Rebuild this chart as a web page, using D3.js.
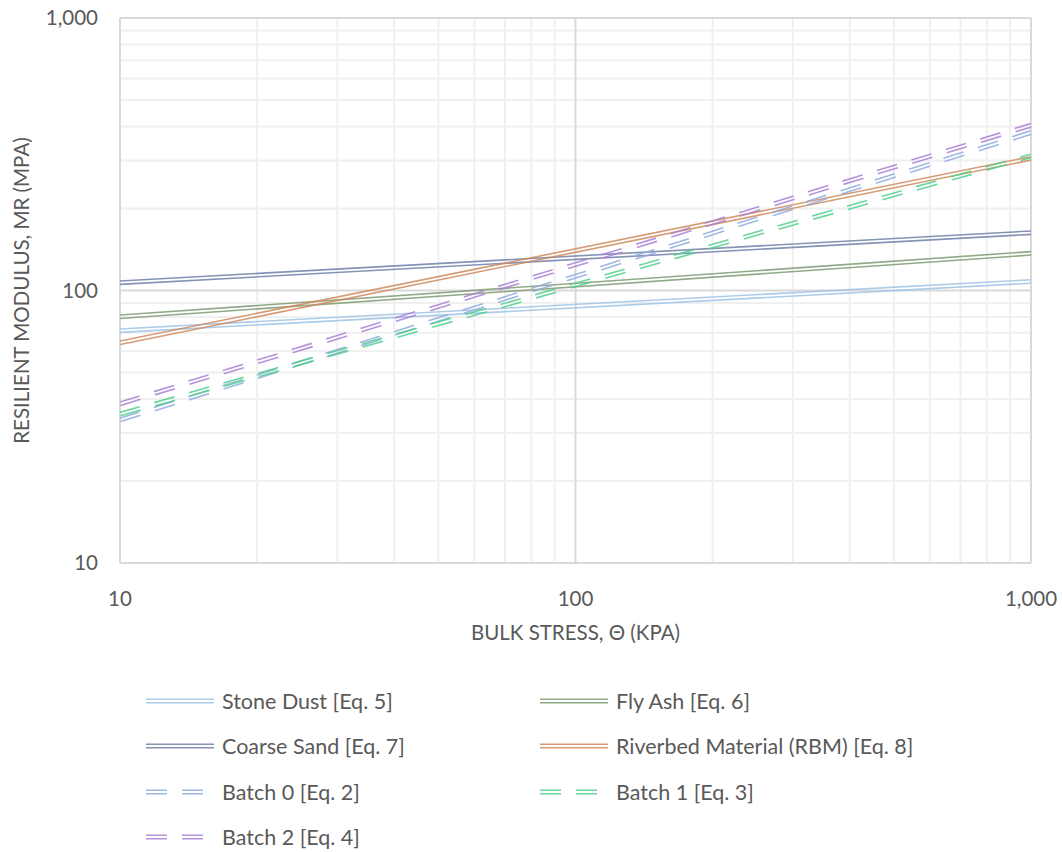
<!DOCTYPE html>
<html>
<head>
<meta charset="utf-8">
<script src="https://cdn.jsdelivr.net/npm/d3@7"></script>
<style>
  body { margin: 0; background: #fff; }
  svg { display: block; }
  text { font-family: Lato, "Open Sans", sans-serif; fill: #595959; }
</style>
</head>
<body>
<svg id="chart" width="1062" height="852"></svg>
<script>
// Bulk stress (kPa) at which each model curve is evaluated
const bulkStress = [10, 1000];

// Resilient modulus (MPa) of each material at those stresses
const stoneDust   = [71.2, 107.9];
const flyAsh      = [80.1, 136.9];
const coarseSand  = [106.8, 163.0];
const riverbed    = [64.3, 305.5];
const batch0      = [33.5, 380];
const batch1      = [35.2, 312];
const batch2      = [38.4, 404];

const seriesNames = [
  "Stone Dust [Eq. 5]", "Fly Ash [Eq. 6]", "Coarse Sand [Eq. 7]",
  "Riverbed Material (RBM) [Eq. 8]", "Batch 0 [Eq. 2]", "Batch 1 [Eq. 3]", "Batch 2 [Eq. 4]"
];
const seriesValues = [stoneDust, flyAsh, coarseSand, riverbed, batch0, batch1, batch2];
const seriesColors = ["#9dc3e6", "#7f9a72", "#6f80a8", "#d08a5c", "#8eaadf", "#4fcf8c", "#a97fd6"];
const seriesDashed = [false, false, false, false, true, true, true];

const xTicks = [10, 100, 1000];
const yTicks = [10, 100, 1000];

const svg = d3.select("#chart");
const plotLeft = 120, plotRight = 1031, plotTop = 18, plotBottom = 563;

const x = d3.scaleLog().domain([10, 1000]).range([plotLeft, plotRight]);
const y = d3.scaleLog().domain([10, 1000]).range([plotBottom, plotTop]);
const fmt = d3.format(",");

// minor values 2..9 within each decade
const minor = [];
[10, 100].forEach(d => { for (let k = 2; k <= 9; k++) minor.push(d * k); });

const grid = svg.append("g");
grid.selectAll(".vminor").data(minor).join("line")
  .attr("x1", d => x(d)).attr("x2", d => x(d))
  .attr("y1", plotTop).attr("y2", plotBottom)
  .attr("stroke", "#f0f0f0").attr("stroke-width", 2);
grid.selectAll(".hminor").data(minor).join("line")
  .attr("y1", d => y(d)).attr("y2", d => y(d))
  .attr("x1", plotLeft).attr("x2", plotRight)
  .attr("stroke", "#f0f0f0").attr("stroke-width", 2);
grid.selectAll(".vmajor").data(xTicks).join("line")
  .attr("x1", d => x(d)).attr("x2", d => x(d))
  .attr("y1", plotTop).attr("y2", plotBottom)
  .attr("stroke", "#d9d9d9").attr("stroke-width", 2);
grid.selectAll(".hmajor").data(yTicks).join("line")
  .attr("y1", d => y(d)).attr("y2", d => y(d))
  .attr("x1", plotLeft).attr("x2", plotRight)
  .attr("stroke", "#d9d9d9").attr("stroke-width", 2);

// tick labels
svg.append("g").selectAll("text").data(yTicks).join("text")
  .attr("x", 98).attr("y", d => y(d)).attr("dy", "0.35em")
  .attr("text-anchor", "end").attr("font-size", 20.5)
  .text(d => fmt(d));
svg.append("g").selectAll("text").data(xTicks).join("text")
  .attr("x", d => x(d)).attr("y", 599).attr("dy", "0.35em")
  .attr("text-anchor", "middle").attr("font-size", 20.5)
  .text(d => fmt(d));

// axis titles
svg.append("text").attr("x", (plotLeft + plotRight) / 2).attr("y", 633).attr("dy", "0.35em")
  .attr("text-anchor", "middle").attr("font-size", 20.5)
  .text("BULK STRESS, Θ (KPA)");
svg.append("text")
  .attr("transform", `translate(22,${(plotTop + plotBottom) / 2}) rotate(-90)`)
  .attr("dy", "0.35em").attr("text-anchor", "middle").attr("font-size", 20.5)
  .text("RESILIENT MODULUS, MR (MPA)");

svg.append("defs").append("clipPath").attr("id", "plot")
  .append("rect").attr("x", plotLeft).attr("y", plotTop)
  .attr("width", plotRight - plotLeft).attr("height", plotBottom - plotTop);

// each series is drawn as a pair of thin parallel strokes
const line = d3.line().x(d => x(d[0])).y(d => y(d[1]));
const plot = svg.append("g").attr("clip-path", "url(#plot)");
const gap = 1.7;
seriesValues.forEach((vals, i) => {
  const pts = bulkStress.map((t, j) => [t, vals[j]]);
  const dx = x(pts[1][0]) - x(pts[0][0]);
  const dy = y(pts[1][1]) - y(pts[0][1]);
  const len = Math.hypot(dx, dy);
  const nx = -dy / len, ny = dx / len;
  [-1, 1].forEach(s => {
    plot.append("path")
      .attr("d", line(pts))
      .attr("transform", `translate(${s * gap * nx},${s * gap * ny})`)
      .attr("fill", "none")
      .attr("stroke", seriesColors[i])
      .attr("stroke-opacity", 0.85)
      .attr("stroke-width", 1.6)
      .attr("stroke-dasharray", seriesDashed[i] ? "21,15" : null);
  });
});

// legend, two columns
const legendRows = [701, 746, 792, 837];
const legend = svg.append("g");
seriesNames.forEach((name, i) => {
  const col = i % 2, row = Math.floor(i / 2);
  const lx = col === 0 ? 146 : 540;
  const ly = legendRows[row];
  [-1, 1].forEach(s => {
    legend.append("line")
      .attr("x1", lx).attr("x2", lx + (seriesDashed[i] ? 60 : 68))
      .attr("y1", ly + s * gap).attr("y2", ly + s * gap)
      .attr("stroke", seriesColors[i]).attr("stroke-opacity", 0.85)
      .attr("stroke-width", 1.6)
      .attr("stroke-dasharray", seriesDashed[i] ? "21,15" : null);
  });
  legend.append("text").attr("x", lx + 76).attr("y", ly).attr("dy", "0.35em")
    .attr("font-size", 21.5).text(name);
});
</script>
</body>
</html>
